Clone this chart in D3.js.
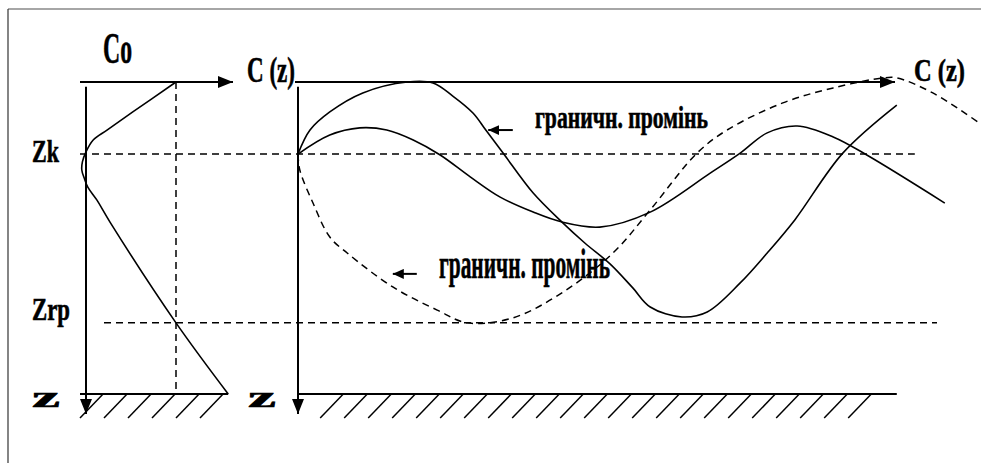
<!DOCTYPE html>
<html>
<head>
<meta charset="utf-8">
<script src="https://cdnjs.cloudflare.com/ajax/libs/d3/7.8.5/d3.min.js"></script>
<style>
  body { margin: 0; background: #fff; }
</style>
</head>
<body>
<div class="diagram"></div>
<script>
// depth levels (0 = surface, 100 = bottom)
var depthZk = 23.1;
var depthZrp = 77.2;
var depthBottom = 100;
var soundCo = 15;

// left panel: sound speed profile C(z), [c, depth]
var profile = [[15, 0], [7.8, 9.6], [3.5, 15.4], [1.2, 18.6], [0, 22.4], [-0.6, 25.6],
    [-0.7, 28.2], [-0.3, 30.8], [0.3, 33.7], [1.8, 37.8], [4, 44.9], [15, 77.2], [23.7, 100]];

// right panel: rays, [range, depth]
var rayUpper = [[0, 23.1], [2, 15.4], [5.3, 9.6], [10.8, 3.5], [18.2, 0], [22.5, 0.3], [25.8, 4.5],
    [29.2, 10], [31.3, 15.4], [34.3, 23.1], [39.2, 35.6], [44, 44.9], [47.8, 51.6], [52, 58.3],
    [55.8, 66], [58.7, 72.1], [64, 75.3], [68.2, 73.7], [73.7, 64.4], [78.2, 54.8], [82.8, 44.2],
    [90.8, 22.8], [99.8, 7.4]];
var rayLower = [[0, 23.1], [5.3, 17], [10.3, 14.7], [14.8, 15.4], [19.2, 18.6], [23.7, 23.4],
    [28.7, 30.4], [33.7, 36.9], [39.2, 41.7], [44, 44.9], [50.3, 46.5], [58.7, 41.7], [68.7, 29.2],
    [73.7, 22.8], [78.2, 16.3], [83.2, 14.1], [89.2, 17.6], [94.8, 23.4], [107.8, 38.8]];
var rayLimit = [[0, 23.1], [0.3, 28.2], [2.5, 38.8], [5.3, 49.7], [8.2, 54.8], [15.8, 65.7],
    [23.2, 73.1], [28.2, 77.2], [35.8, 75.6], [44.2, 67.3], [52.5, 54.8], [58.7, 41], [66.5, 22.8],
    [71.5, 15.4], [80.8, 6.7], [89.2, 1.9], [97.5, -1.3], [99.8, -1.3], [105.8, 3.5], [113.3, 12.8]];

var rayLabel = "граничн. промінь";

var width = 981, height = 463;

var y = d3.scaleLinear().domain([0, 100]).range([82, 394]);
var xL = d3.scaleLinear().domain([0, 25]).range([86, 236]);
var xR = d3.scaleLinear().domain([0, 100]).range([298, 898]);

var svg = d3.select(".diagram").append("svg")
    .attr("width", width)
    .attr("height", height)
    .attr("font-family", "'Liberation Serif', 'Times New Roman', 'DejaVu Serif', serif")
    .attr("font-weight", "bold");

var defs = svg.append("defs");
defs.append("marker")
    .attr("id", "head")
    .attr("viewBox", "0 0 15 12")
    .attr("refX", 15).attr("refY", 6)
    .attr("markerWidth", 15).attr("markerHeight", 12)
    .attr("markerUnits", "userSpaceOnUse")
    .attr("orient", "auto")
    .append("path").attr("d", "M0,0L15,6L0,12Z").attr("fill", "#000");
defs.append("marker")
    .attr("id", "small")
    .attr("viewBox", "0 0 11 10")
    .attr("refX", 11).attr("refY", 5)
    .attr("markerWidth", 11).attr("markerHeight", 10)
    .attr("markerUnits", "userSpaceOnUse")
    .attr("orient", "auto")
    .append("path").attr("d", "M0,0L11,5L0,10Z").attr("fill", "#000");

// frame
svg.append("line").attr("x1", 8).attr("y1", 9).attr("x2", width).attr("y2", 9)
    .attr("stroke", "#888").attr("stroke-width", 1.5);
svg.append("line").attr("x1", 8).attr("y1", 9).attr("x2", 8).attr("y2", height)
    .attr("stroke", "#333").attr("stroke-width", 1.2);

function seg(x1, y1, x2, y2) {
    return svg.append("line")
        .attr("x1", x1).attr("y1", y1).attr("x2", x2).attr("y2", y2)
        .attr("stroke", "#000");
}

// dashed levels
seg(xL(-1), y(depthZk), xR(102.8), y(depthZk)).attr("stroke-width", 1.5).attr("stroke-dasharray", "7,5");
seg(xL(3), y(depthZrp), xR(106.5), y(depthZrp)).attr("stroke-width", 1.5).attr("stroke-dasharray", "7,5");
seg(xL(soundCo), y(0), xL(soundCo), y(depthBottom)).attr("stroke-width", 1.5).attr("stroke-dasharray", "7,5");

// axes
seg(xL(-1), y(0), xL(24.5), y(0)).attr("stroke-width", 2).attr("marker-end", "url(#head)");
seg(xL(0), y(1.5), xL(0), y(106.4)).attr("stroke-width", 2).attr("marker-end", "url(#head)");
seg(xR(-0.5), y(0), xR(99.5), y(0)).attr("stroke-width", 2).attr("marker-end", "url(#head)");
seg(xR(0), y(1.5), xR(0), y(106.4)).attr("stroke-width", 2).attr("marker-end", "url(#head)");

// bottom with hatching
seg(xL(-1), y(depthBottom), xL(23.7), y(depthBottom)).attr("stroke-width", 2);
seg(xR(0), y(depthBottom), xR(99.8), y(depthBottom)).attr("stroke-width", 2);
var hatchL = d3.range(-1, 20, 4);
var hatchR = d3.range(3.7, 92, 4);
svg.selectAll(".hl").data(hatchL).enter().append("line")
    .attr("x1", function(d) { return xL(d); }).attr("y1", y(107.7))
    .attr("x2", function(d) { return xL(d + 3.85); }).attr("y2", y(depthBottom))
    .attr("stroke", "#000").attr("stroke-width", 1.5);
svg.selectAll(".hr").data(hatchR).enter().append("line")
    .attr("x1", function(d) { return xR(d); }).attr("y1", y(107.7))
    .attr("x2", function(d) { return xR(d + 3.85); }).attr("y2", y(depthBottom))
    .attr("stroke", "#000").attr("stroke-width", 1.5);

// curves
var lineL = d3.line().x(function(d) { return xL(d[0]); }).y(function(d) { return y(d[1]); })
    .curve(d3.curveCatmullRom.alpha(0.5));
var lineR = d3.line().x(function(d) { return xR(d[0]); }).y(function(d) { return y(d[1]); })
    .curve(d3.curveCatmullRom.alpha(0.5));

svg.append("path").attr("d", lineL(profile)).attr("fill", "none").attr("stroke", "#000").attr("stroke-width", 1.6);
svg.append("path").attr("d", lineR(rayUpper)).attr("fill", "none").attr("stroke", "#000").attr("stroke-width", 1.6);
svg.append("path").attr("d", lineR(rayLower)).attr("fill", "none").attr("stroke", "#000").attr("stroke-width", 1.6);
svg.append("path").attr("d", lineR(rayLimit)).attr("fill", "none").attr("stroke", "#000")
    .attr("stroke-width", 1.5).attr("stroke-dasharray", "7,5");

// pointer arrows to labels
seg(xR(35.8), y(15.4), xR(31.7), y(15.4)).attr("stroke-width", 2).attr("marker-end", "url(#small)");
seg(xR(19.8), y(61.5), xR(15.8), y(61.5)).attr("stroke-width", 2).attr("marker-end", "url(#small)");

// texts (heavy, squeezed like the original)
function label(t, x, yy, size, len) {
    return svg.append("text").attr("x", x).attr("y", yy)
        .attr("font-size", size)
        .attr("stroke", "#000").attr("stroke-width", 0.6)
        .attr("textLength", len).attr("lengthAdjust", "spacingAndGlyphs")
        .text(t);
}
label("Co", 103, 63, 44, 29);
label("C (z)", 247, 82, 35, 48);
label("C (z)", 914, 81, 32, 51);
label("Zk", 32, 162, 32, 27);
label("Zrp", 32, 320, 32, 38);
label("z", 32, 407, 30, 28);
label("z", 248, 407, 30, 28);
label(rayLabel, 535, 128, 31, 173);
label(rayLabel, 439, 278, 42, 171);
</script>
</body>
</html>
